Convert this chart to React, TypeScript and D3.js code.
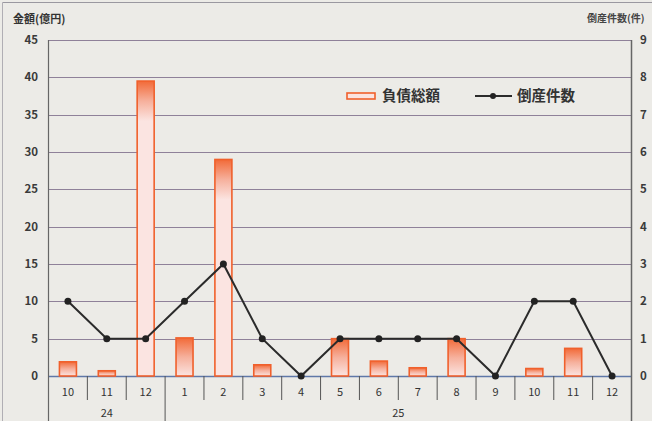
import React from "react";
import * as d3 from "d3";

const months = ["10", "11", "12", "1", "2", "3", "4", "5", "6", "7", "8", "9", "10", "11", "12"];
const years = [
  { label: "24", start: 0, end: 3 },
  { label: "25", start: 3, end: 15 },
];
const debtAmount = [1.9, 0.7, 39.5, 5.1, 29, 1.5, 0, 5.0, 2.0, 1.1, 5.0, 0, 1.0, 3.7, 0];
const bankruptcies = [2, 1, 1, 2, 3, 1, 0, 1, 1, 1, 1, 0, 2, 2, 0];
const leftTicks = [0, 5, 10, 15, 20, 25, 30, 35, 40, 45];
const rightTicks = [0, 1, 2, 3, 4, 5, 6, 7, 8, 9];

const W = 652;
const H = 421;
const M = { left: 48.5, right: 631.5, top: 40, bottom: 376 };

export default function App() {
  const idx = months.map((_, i) => String(i));
  const x = d3.scaleBand<string>().domain(idx).range([M.left, M.right]).padding(0);
  const yL = d3.scaleLinear().domain([0, 45]).range([M.bottom, M.top]);
  const yR = d3.scaleLinear().domain([0, 9]).range([M.bottom, M.top]);
  const bw = x.bandwidth();
  const barW = 17;
  const line = d3
    .line<number>()
    .x((_, i) => (x(String(i)) as number) + bw / 2)
    .y((d) => yR(d));
  const font = "'Noto Sans CJK JP', 'Noto Sans', sans-serif";

  return (
    <svg
      width={W}
      height={H}
      style={{ position: "absolute", left: 0, top: 0, background: "#ecebe7" }}
      fontFamily={font}
    >
      <defs>
        {debtAmount.map((v, i) => {
          const top = yL(v);
          const span = Math.min(M.bottom - top, 40);
          return (
            <linearGradient
              key={"gr" + i}
              id={"barGrad" + i}
              gradientUnits="userSpaceOnUse"
              x1="0"
              y1={top}
              x2="0"
              y2={top + Math.max(span, 1)}
            >
              <stop offset="0%" stopColor="#f26a38" />
              <stop offset="50%" stopColor="#f6b09c" />
              <stop offset="100%" stopColor="#fbe4e1" />
            </linearGradient>
          );
        })}
      </defs>
      <rect x={0} y={0} width={W} height={H} fill="#ecebe7" />
      <line x1={2.5} y1={2.5} x2={W} y2={2.5} stroke="#9a98a0" strokeWidth={1} />
      <line x1={2.5} y1={2.5} x2={2.5} y2={H} stroke="#b0aeb4" strokeWidth={1} />

      {/* titles */}
      <text x={13} y={23} fontSize={11} fontWeight="bold" fill="#333">金額(億円)</text>
      <text x={587} y={22} fontSize={10} fontWeight="bold" fill="#444">倒産件数(件)</text>

      {/* gridlines */}
      {leftTicks.map((t) => (
        <line
          key={"g" + t}
          x1={M.left}
          x2={M.right}
          y1={Math.round(yL(t)) + 0.5}
          y2={Math.round(yL(t)) + 0.5}
          stroke={t === 0 ? "#5f78a8" : "#8f8199"}
          strokeWidth={t === 0 ? 1.5 : 1}
        />
      ))}

      {/* left ticks */}
      {leftTicks.map((t) => (
        <text key={"l" + t} x={38} y={yL(t) + 4} fontSize={11.5} fontWeight="bold" textAnchor="end" fill="#3a3a3a">
          {t}
        </text>
      ))}
      {/* right ticks */}
      {rightTicks.map((t) => (
        <text key={"r" + t} x={640} y={yR(t) + 4} fontSize={11.5} fontWeight="bold" textAnchor="start" fill="#3a3a3a">
          {t}
        </text>
      ))}

      {/* axes lines */}
      <line x1={M.left} x2={M.left} y1={M.top} y2={H} stroke="#666" strokeWidth={1.2} />
      <line x1={M.right} x2={M.right} y1={M.top} y2={H} stroke="#666" strokeWidth={1.5} />

      {/* month separators */}
      {months.map((_, i) => {
        if (i === 0) return null;
        const xx = x(String(i)) as number;
        const isYear = years.some((y) => y.start === i);
        return (
          <line
            key={"s" + i}
            x1={xx}
            x2={xx}
            y1={M.bottom}
            y2={isYear ? H : 400}
            stroke="#555"
            strokeWidth={1}
          />
        );
      })}

      {/* bars */}
      {debtAmount.map((v, i) =>
        v > 0 ? (
          <rect
            key={"b" + i}
            x={(x(String(i)) as number) + bw / 2 - barW / 2}
            y={yL(v)}
            width={barW}
            height={M.bottom - yL(v)}
            fill={`url(#barGrad${i})`}
            stroke="#f0602c"
            strokeWidth={1.6}
          />
        ) : null
      )}

      {/* line */}
      <path d={line(bankruptcies) || ""} fill="none" stroke="#2b2b2b" strokeWidth={2} />
      {bankruptcies.map((v, i) => (
        <circle key={"c" + i} cx={(x(String(i)) as number) + bw / 2} cy={yR(v)} r={3.5} fill="#222" />
      ))}

      {/* month labels */}
      {months.map((m, i) => (
        <text
          key={"m" + i}
          x={(x(String(i)) as number) + bw / 2}
          y={396}
          fontSize={11}
          textAnchor="middle"
          fill="#333"
        >
          {m}
        </text>
      ))}
      {years.map((y) => {
        const x0 = x(String(y.start)) as number;
        const x1 = y.end >= months.length ? M.right : (x(String(y.end)) as number);
        return (
          <text key={"y" + y.label} x={(x0 + x1) / 2} y={417} fontSize={11} textAnchor="middle" fill="#333">
            {y.label}
          </text>
        );
      })}

      {/* legend */}
      <rect x={347} y={93} width={28} height={6} fill="#fbe3e0" stroke="#f0602c" strokeWidth={1.6} />
      <text x={382} y={101} fontSize={14.5} fontWeight="bold" fill="#333">負債総額</text>
      <line x1={475} x2={512} y1={96} y2={96} stroke="#2b2b2b" strokeWidth={2} />
      <circle cx={493} cy={96} r={3} fill="#222" />
      <text x={517} y={101} fontSize={14.5} fontWeight="bold" fill="#333">倒産件数</text>
    </svg>
  );
}
